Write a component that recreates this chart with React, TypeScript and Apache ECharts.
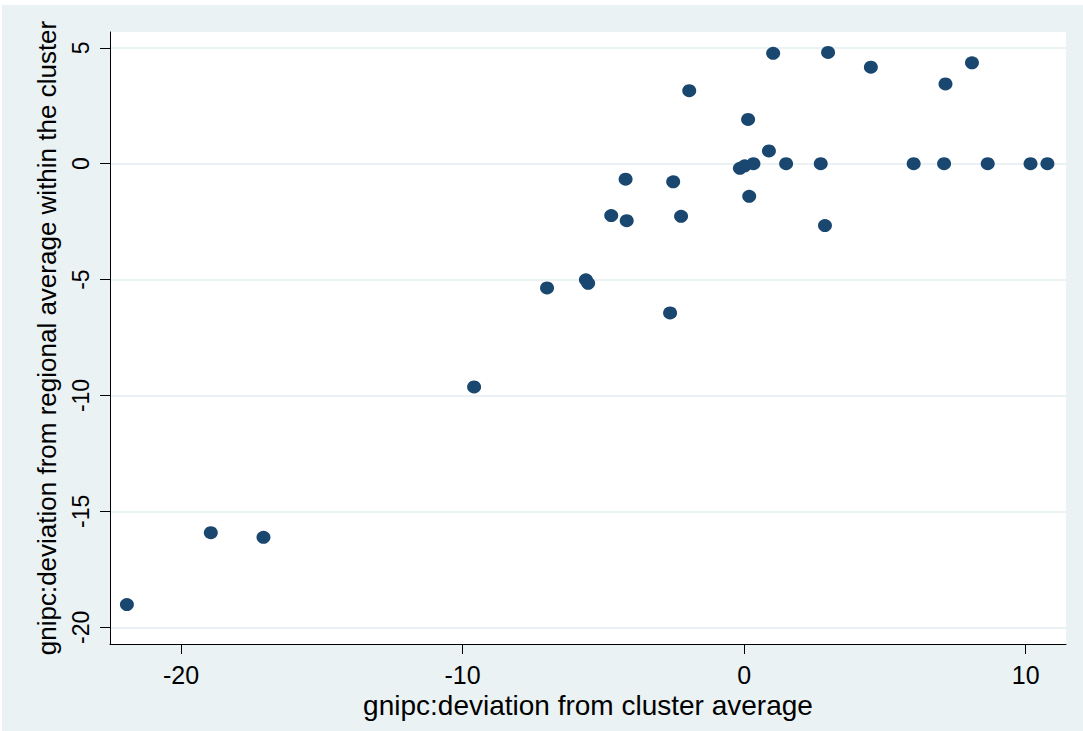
import React, { useEffect, useRef } from "react";
import * as echarts from "echarts";

const xTitle = "gnipc:deviation from cluster average";
const yTitle = "gnipc:deviation from regional average within the cluster";
const xTicks = [-20, -10, 0, 10];
const yTicks = [-20, -15, -10, -5, 0, 5];

const xValues = [
  1.03, 2.98, 4.5, 8.09, 7.15, -1.95, 0.14, 0.88, -0.15, 0.02, 0.33, 1.49, 2.72,
  6.02, 7.1, 8.65, 10.17, 10.77, -4.21, -2.52, 0.18, -4.72, -4.17, -2.24, 2.87,
  -7.0, -5.62, -5.54, -2.63, -9.59, -18.94, -17.07, -21.92,
];
const yValues = [
  4.76, 4.8, 4.16, 4.35, 3.44, 3.15, 1.91, 0.55, -0.2, -0.09, 0.0, 0.0, 0.0,
  0.0, 0.0, 0.0, 0.0, 0.0, -0.67, -0.78, -1.41, -2.24, -2.46, -2.27, -2.67,
  -5.36, -5.01, -5.16, -6.44, -9.63, -15.92, -16.12, -19.02,
];

export default function App() {
  const ref = useRef<HTMLDivElement>(null);
  useEffect(() => {
    document.body.style.margin = "0";
    if (!ref.current) return;
    const chart = echarts.init(ref.current, null, { renderer: "svg" });
    const font = "'Liberation Sans', Arial, Helvetica, sans-serif";
    chart.setOption({
      animation: false,
      backgroundColor: "#eaf2f3",
      textStyle: { fontFamily: font },
      grid: {
        left: 108,
        right: 17,
        top: 27,
        bottom: 87,
        show: true,
        backgroundColor: "#ffffff",
        borderWidth: 0,
      },
      xAxis: {
        type: "value",
        min: -22.52,
        max: 11.43,
        name: xTitle,
        nameLocation: "middle",
        nameGap: 38,
        nameTextStyle: { fontSize: 28, color: "#000", fontFamily: font },
        axisLine: { onZero: false, lineStyle: { color: "#000", width: 1 } },
        axisTick: { customValues: xTicks, length: 10, lineStyle: { color: "#000" } },
        axisLabel: { customValues: xTicks, fontSize: 25, color: "#000", margin: 18, fontFamily: font },
        splitLine: { show: false },
      },
      yAxis: {
        type: "value",
        min: -20.72,
        max: 5.68,
        name: yTitle,
        nameLocation: "middle",
        nameRotate: 90,
        nameGap: 50,
        nameTextStyle: { fontSize: 26, color: "#000", fontFamily: font },
        axisLine: { onZero: false, lineStyle: { color: "#000", width: 1 } },
        axisTick: { customValues: yTicks, length: 10, lineStyle: { color: "#000" } },
        axisLabel: {
          customValues: yTicks,
          rotate: 90,
          fontSize: 23,
          color: "#000",
          margin: 18,
          fontFamily: font,
        },
        splitLine: { show: true, lineStyle: { color: "#eaf2f3", width: 2 } },
      },
      series: [
        {
          type: "scatter",
          data: xValues.map((x, i) => [x, yValues[i]]),
          symbol: "circle",
          symbolSize: [14, 13],
          itemStyle: { color: "#1a476f", opacity: 1 },
          clip: false,
        },
      ],
    });
    return () => chart.dispose();
  }, []);
  return (
    <div style={{ position: "relative", width: 1083, height: 731, background: "#fff" }}>
      <div ref={ref} style={{ position: "absolute", left: 2, top: 5, width: 1081, height: 726 }} />
    </div>
  );
}
